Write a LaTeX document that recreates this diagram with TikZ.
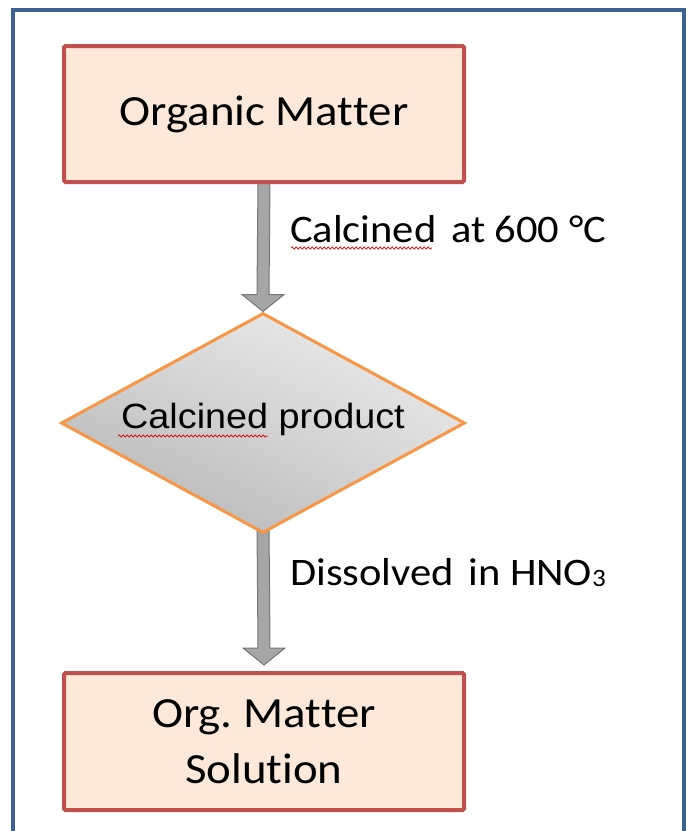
\documentclass[tikz,border=0pt]{standalone}
\usepackage{fontspec}
\newfontfamily\calibri[FakeStretch=1.09,Ligatures={NoCommon,NoContextual,NoRequired},RawFeature={-liga;-clig;-calt;-dlig}]{Carlito}
\newfontfamily\arialf[FakeStretch=1.08,Ligatures=NoCommon]{Liberation Sans}
\usetikzlibrary{shapes.geometric,calc,shadings,backgrounds,decorations.pathmorphing}
\definecolor{framecol}{RGB}{60,98,145}
\definecolor{boxborder}{RGB}{192,80,77}
\definecolor{boxfill}{RGB}{253,233,217}
\definecolor{orangeb}{RGB}{247,150,70}
\definecolor{arrfill}{RGB}{166,166,166}
\definecolor{arrline}{RGB}{118,118,118}
\definecolor{dUL}{RGB}{218,218,218}
\definecolor{dUR}{RGB}{240,240,240}
\definecolor{dLL}{RGB}{172,172,172}
\definecolor{dLR}{RGB}{212,212,212}
\begin{document}
\begin{tikzpicture}[x=1pt,y=-1pt,
  frame/.style={draw=framecol,line width=4pt},
  stepbox/.style={draw=boxborder,fill=boxfill,line width=4pt,rounded corners=1.5pt,
    minimum width=400pt,inner sep=0pt,font=\calibri\fontsize{43}{56}\selectfont,align=center},
  decbox/.style={diamond,aspect=1.836,draw=orangeb,line width=3pt,minimum width=404pt,minimum height=220pt,
    inner sep=0pt,upper left=dUL,upper right=dUR,lower left=dLL,lower right=dLR,
    font=\arialf\fontsize{35}{42}\selectfont,text height=17pt,text depth=7pt},
  blockarrow/.style={fill=arrfill,draw=arrline,line width=1pt,line join=miter},
  steplabel/.style={anchor=base west,inner sep=0pt,font=\calibri\fontsize{39}{46}\selectfont},
  squiggle/.style={draw=red!85!black,line width=0.7pt,decorate,
    decoration={snake,amplitude=1.1pt,segment length=4pt}}
]
\useasboundingbox (0,0) rectangle (689,831);
\draw[frame] (13,9.5) rectangle (684,850);

\node[stepbox,minimum height=136pt,text height=32pt,text depth=10pt] (om) at (264,114) {Organic Mat\kern0ptter};
\node[decbox] (cp) at (263,423) {Calcined product};
\node[stepbox,minimum height=137pt] (sol) at (264,741.5) {Org.\ Mat\kern0ptter\\Solut\kern0ption};

\coordinate (t1) at (cp.north);
\coordinate (t2) at ($(sol.north)+(0,-6)$);
\begin{pgfonlayer}{background}
\draw[blockarrow] ($(om.south)+(-6,-4)$) -- ($(t1)+(-6,-17)$) -- ($(t1)+(-21,-17)$) -- (t1)
  -- ($(t1)+(21,-17)$) -- ($(t1)+(6,-17)$) -- ($(om.south)+(6,-4)$) -- cycle;
\draw[blockarrow] ($(cp.south)+(-6,-10)$) -- ($(t2)+(-6,-17)$) -- ($(t2)+(-21,-17)$) -- (t2)
  -- ($(t2)+(21,-17)$) -- ($(t2)+(6,-17)$) -- ($(cp.south)+(6,-10)$) -- cycle;
\end{pgfonlayer}

\node[steplabel] (l1) at (290,242) {Calcined\hspace{5pt} at 600 °C};
\node[steplabel] (l2) at (290,585) {Dissolved\hspace{5pt} in HNO\raisebox{-1.5pt}{\fontsize{25}{25}\selectfont 3}};

\coordinate (s1a) at (291,248);
\coordinate (s1b) at (432,248);
\draw[squiggle] (s1a) -- (s1b);
\coordinate (s2a) at (118,436);
\coordinate (s2b) at (268,436);
\draw[squiggle] (s2a) -- (s2b);
\end{tikzpicture}
\end{document}
